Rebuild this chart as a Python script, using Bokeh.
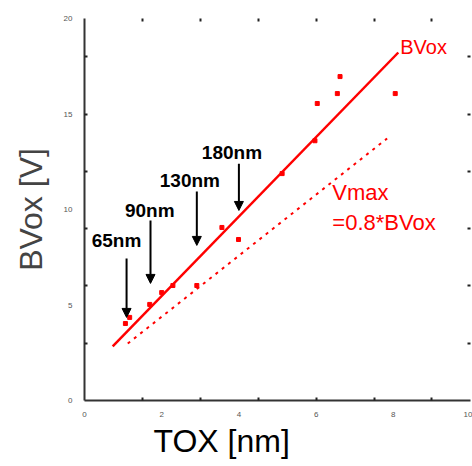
from bokeh.plotting import figure
from bokeh.models import (ColumnDataSource, LinearAxis, FixedTicker, Arrow,
                          NormalHead, Range1d, Title)
from bokeh.core.properties import value
from bokeh.embed import file_html
from bokeh.resources import INLINE

# ---- data ----
meas_tox = [1.06, 1.17, 1.69, 2.00, 2.29, 2.91, 3.56, 3.99, 5.12, 5.97, 6.03, 6.55, 6.62, 8.05]
meas_bv = [4.03, 4.35, 5.03, 5.65, 6.02, 6.02, 9.06, 8.43, 11.88, 13.6, 15.55, 16.07, 16.96, 16.07]

bvox_tox = [0.73, 8.13]
bvox_v = [2.83, 18.22]
vmax_tox = [1.12, 7.84]
vmax_v = [2.98, 13.72]

nodes = ["65nm", "90nm", "130nm", "180nm"]
node_tox = [1.09, 1.71, 2.91, 4.00]
node_tip = [4.35, 6.13, 8.12, 9.95]
node_tail = [7.43, 9.42, 10.94, 12.40]
node_lx = [0.83, 1.69, 2.73, 3.82]
node_ly = [8.38, 9.95, 11.50, 12.98]

x_labels = [0, 2, 4, 6, 8, 10]
y_labels = [0, 5, 10, 15, 20]
x_minor = [1.5, 3, 4.5, 6, 7.5, 9]
y_minor = [3, 6, 9, 12, 15, 18]

RED = "#ff0000"
FONT = "Liberation Sans"

p = figure(width=472, height=466, output_backend="svg", toolbar_location=None,
           x_range=Range1d(0, 10), y_range=Range1d(0, 20),
           x_axis_location=None, y_axis_location=None,
           min_border_left=84, min_border_right=2, min_border_top=18,
           min_border_bottom=66)
p.grid.visible = False
p.outline_line_color = None
p.background_fill_color = "white"

def style_axis(ax, labels, minor, show_labels=True):
    ax.ticker = FixedTicker(ticks=labels if show_labels else [], minor_ticks=minor)
    ax.major_tick_in = 0
    ax.major_tick_out = 0
    ax.minor_tick_in = 3
    ax.minor_tick_out = 0
    ax.minor_tick_line_color = "#222222"
    ax.minor_tick_line_width = 2
    ax.major_label_text_font = FONT
    ax.major_label_text_font_size = "8px"
    ax.major_label_text_color = "#555555"
    ax.major_label_standoff = 11

bottom = LinearAxis()
style_axis(bottom, x_labels, x_minor)
bottom.axis_line_width = 2
bottom.axis_line_color = "#333333"
p.add_layout(bottom, "below")

left = LinearAxis(axis_label="BVox [V]")
style_axis(left, y_labels, y_minor)
left.major_label_standoff = 12
left.axis_line_width = 2
left.axis_line_color = "#333333"
left.axis_label_text_font = FONT
left.axis_label_text_font_size = "32px"
left.axis_label_text_font_style = "normal"
left.axis_label_standoff = 12
p.add_layout(left, "left")

top = LinearAxis()
style_axis(top, x_labels, x_minor, show_labels=False)
top.axis_line_alpha = 0
p.add_layout(top, "above")

right = LinearAxis()
style_axis(right, y_labels, y_minor, show_labels=False)
right.axis_line_alpha = 0
p.add_layout(right, "right")

# x-axis title (off-centre in the original)
p.add_layout(Title(text="TOX [nm]", text_font=FONT, text_font_size="32px",
                   text_font_style="normal", text_color="black",
                   align="left", offset=69, standoff=3), "below")

# lines
p.line(bvox_tox, bvox_v, line_color=RED, line_width=2.5)
p.line(vmax_tox, vmax_v, line_color=RED, line_width=2, line_dash="3 5")

# measurements
p.scatter(meas_tox, meas_bv, marker="square", size=4, color=RED)

# line labels
p.text(x=[bvox_tox[1] + 0.05], y=[bvox_v[1] + 0.3], text=["BVox"],
       text_font=value(FONT), text_font_size="20px", text_color=RED,
       text_align="left", text_baseline="middle")
p.text(x=[6.42, 6.42], y=[10.9, 9.3], text=["Vmax", "=0.8*BVox"],
       text_font=value(FONT), text_font_size="22px", text_color=RED,
       text_align="left", text_baseline="middle")

# node arrows
asrc = ColumnDataSource(dict(x=node_tox, tip=node_tip, tail=node_tail))
p.add_layout(Arrow(source=asrc, x_start="x", y_start="tail", x_end="x", y_end="tip",
                   line_width=2, line_color="black",
                   end=NormalHead(size=9, fill_color="black", line_color="black")))
p.text(x=node_lx, y=node_ly, text=nodes, text_font=value(FONT),
       text_font_size="19px", text_font_style="bold", text_color="black",
       text_align="center", text_baseline="middle")

open("out.html", "w").write(file_html(p, INLINE))
